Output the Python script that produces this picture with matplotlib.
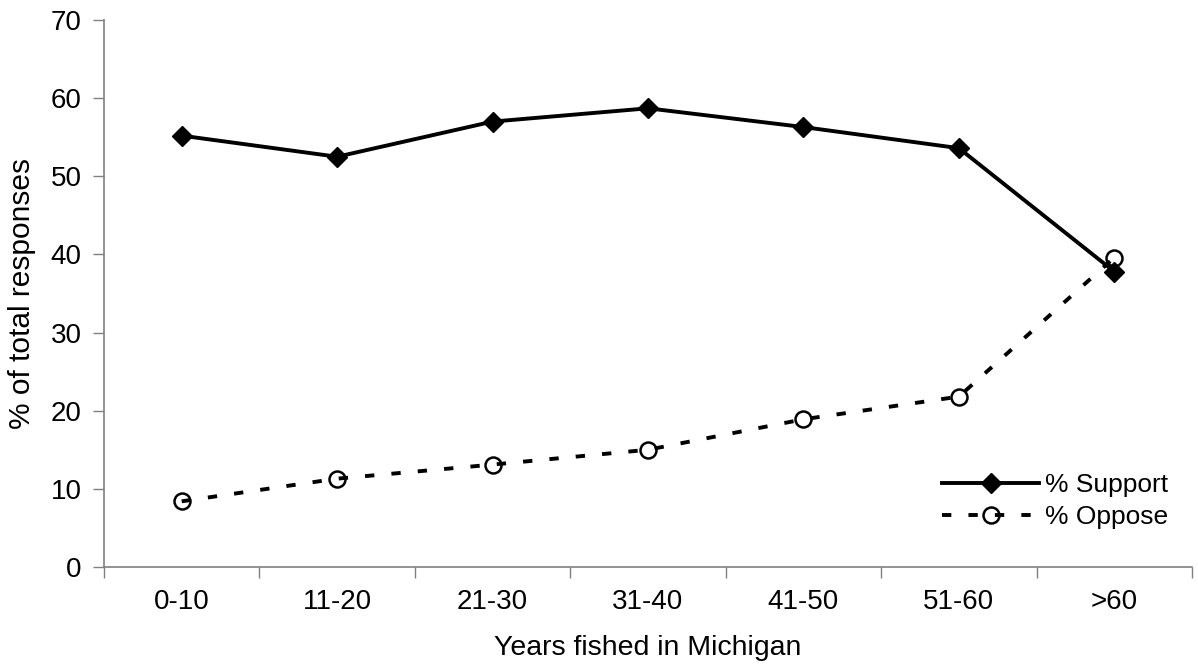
import matplotlib
matplotlib.use("Agg")
import matplotlib.pyplot as plt
import numpy as np

# Data
categories = ["0-10", "11-20", "21-30", "31-40", "41-50", "51-60", ">60"]
support = [55.2, 52.5, 57.0, 58.7, 56.3, 53.6, 37.8]
oppose = [8.4, 11.3, 13.1, 15.0, 18.9, 21.8, 39.6]

plt.rcParams["font.family"] = ["Liberation Sans", "DejaVu Sans"]

fig = plt.figure(figsize=(11.98, 6.67), dpi=100)
ax = fig.add_axes([0.0868, 0.15, 0.9082, 0.82])

x = np.arange(len(categories))

ax.plot(x, support, color="black", linewidth=2.8, marker="D", markersize=10,
        markerfacecolor="black", markeredgecolor="black", label="% Support")
ax.plot(x, oppose, color="black", linewidth=2.8, linestyle=(0, (2.4, 4.4)),
        marker="o", markersize=11.5, markerfacecolor="none",
        markeredgecolor="black", markeredgewidth=1.8, label="% Oppose")

ax.set_xlim(-0.5, len(categories) - 0.5)
ax.set_ylim(0, 70)
ax.set_yticks(range(0, 71, 10))

# category labels centred, tick marks on the boundaries
ax.set_xticks(x)
ax.set_xticklabels(categories)
ax.set_xticks(np.arange(-0.5, len(categories), 1), minor=True)
ax.tick_params(axis="x", which="major", length=0, pad=16, labelsize=20)
ax.tick_params(axis="x", which="minor", length=8, width=1, color="#808080",
               direction="out")
ax.tick_params(axis="y", length=8, width=1, color="#808080", labelsize=20, pad=8)

for side in ["top", "right"]:
    ax.spines[side].set_visible(False)
for side in ["left", "bottom"]:
    ax.spines[side].set_color("#808080")
    ax.spines[side].set_linewidth(1.2)

ax.set_xlabel("Years fished in Michigan", fontsize=20.5, va="center")
ax.xaxis.set_label_coords(0.5, -0.148)
ax.set_ylabel("% of total responses", fontsize=21.5, va="center")
ax.yaxis.set_label_coords(-0.0754, 0.5)

ax.legend(loc="upper left", bbox_to_anchor=(0.770, 0.172), frameon=False,
          fontsize=19, handlelength=3.7, handletextpad=0.2, labelspacing=0.3,
          borderpad=0, borderaxespad=0)

plt.savefig("out.png", dpi=100)
